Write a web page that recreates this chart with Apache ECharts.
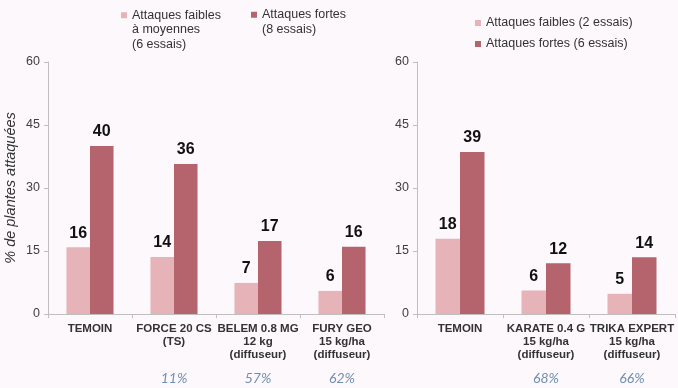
<!DOCTYPE html>
<html>
<head>
<meta charset="utf-8">
<script src="https://cdn.jsdelivr.net/npm/echarts@6/dist/echarts.min.js"></script>
<style>
  html, body { margin: 0; padding: 0; background: #fdf8fb; }
  #chart { width: 678px; height: 388px; }
</style>
</head>
<body>
<div id="chart"></div>
<script>
// données
var catsLeft = ['TEMOIN', 'FORCE 20 CS\n(TS)', 'BELEM 0.8 MG\n12 kg\n(diffuseur)', 'FURY GEO\n15 kg/ha\n(diffuseur)'];
var effLeft = ['', '11%', '57%', '62%'];
var faiblesLeft = [15.9, 13.6, 7.4, 5.5];
var fortesLeft = [40, 35.7, 17.4, 16];

var catsRight = ['TEMOIN', 'KARATE 0.4 G\n15 kg/ha\n(diffuseur)', 'TRIKA EXPERT\n15 kg/ha\n(diffuseur)'];
var effRight = ['', '68%', '66%'];
var faiblesRight = [17.9, 5.6, 4.8];
var fortesRight = [38.6, 12.1, 13.5];

var yTicks = [0, 15, 30, 45, 60];

var clair = '#e6b3b8';
var fonce = '#b5636d';

var barLabel = {
    show: true,
    position: 'top',
    fontSize: 16,
    fontWeight: 'bold',
    color: '#111',
    fontFamily: 'Liberation Sans',
    distance: 6,
    formatter: function (p) { return Math.round(p.value); }
};

function catAxis(grid, cats) {
    return {
        type: 'category',
        gridIndex: grid,
        data: cats,
        axisLine: { lineStyle: { color: '#bfbfbf' } },
        axisTick: { show: true, length: 4, lineStyle: { color: '#bfbfbf' } },
        axisLabel: {
            interval: 0,
            margin: 8,
            fontSize: 11.5,
            fontWeight: 'bold',
            color: '#333',
            lineHeight: 13,
            fontFamily: 'Liberation Sans'
        }
    };
}

function effAxis(grid, eff) {
    return {
        type: 'category',
        gridIndex: grid,
        position: 'bottom',
        data: eff,
        axisLine: { show: false },
        axisTick: { show: false },
        axisLabel: {
            interval: 0,
            margin: 57,
            fontSize: 14,
            fontStyle: 'italic',
            color: '#6f8fb0',
            fontFamily: 'Lato'
        }
    };
}

function valAxis(grid, withName) {
    return {
        type: 'value',
        gridIndex: grid,
        min: yTicks[0],
        max: yTicks[yTicks.length - 1],
        interval: 15,
        name: withName ? '% de plantes attaquées' : '',
        nameLocation: 'middle',
        nameGap: 30,
        nameTextStyle: { fontStyle: 'italic', fontSize: 14.5, color: '#333', fontFamily: 'Liberation Sans' },
        splitLine: { show: false },
        axisLine: { show: true, lineStyle: { color: '#bfbfbf' } },
        axisTick: { show: true, length: 4, lineStyle: { color: '#bfbfbf' } },
        axisLabel: { fontSize: 12.5, color: '#404040', margin: 8, fontFamily: 'Liberation Sans' }
    };
}

var legendText = { fontSize: 12.5, color: '#333', fontFamily: 'Liberation Sans', lineHeight: 14.5 };

// lignes vides devant le nom : le carré reste en face de la première ligne
function topAligned(name) {
    var n = name.split('\n').length - 1;
    return new Array(n + 1).join('\n') + name;
}

var option = {
    backgroundColor: '#fdf8fb',
    animation: false,
    legend: [{
        data: ['Attaques faibles\nà moyennes\n(6 essais)'],
        left: 121, top: -21, padding: 0,
        icon: 'rect', itemWidth: 6, itemHeight: 6,
        formatter: topAligned,
        textStyle: legendText
    }, {
        data: ['Attaques fortes\n(8 essais)'],
        left: 251, top: -7, padding: 0,
        icon: 'rect', itemWidth: 6, itemHeight: 6,
        formatter: topAligned,
        textStyle: legendText
    }, {
        data: ['Attaques faibles (2 essais)', 'Attaques fortes (6 essais)'],
        left: 475, top: 15.5, padding: 0,
        orient: 'vertical',
        icon: 'rect', itemWidth: 6, itemHeight: 6, itemGap: 6,
        textStyle: { fontSize: 12.5, color: '#333', fontFamily: 'Liberation Sans', lineHeight: 15 }
    }],
    grid: [
        { left: 48, right: 294, top: 62, bottom: 74 },
        { left: 417, right: 3, top: 62, bottom: 74 }
    ],
    xAxis: [
        catAxis(0, catsLeft), effAxis(0, effLeft),
        catAxis(1, catsRight), effAxis(1, effRight)
    ],
    yAxis: [valAxis(0, true), valAxis(1, false)],
    series: [{
        name: 'Attaques faibles\nà moyennes\n(6 essais)',
        type: 'bar', xAxisIndex: 0, yAxisIndex: 0,
        barCategoryGap: '44%', barGap: '0%',
        itemStyle: { color: clair },
        label: barLabel,
        data: faiblesLeft
    }, {
        name: 'Attaques fortes\n(8 essais)',
        type: 'bar', xAxisIndex: 0, yAxisIndex: 0,
        barCategoryGap: '44%', barGap: '0%',
        itemStyle: { color: fonce },
        label: barLabel,
        data: fortesLeft
    }, {
        name: 'Attaques faibles (2 essais)',
        type: 'bar', xAxisIndex: 2, yAxisIndex: 1,
        barCategoryGap: '43%', barGap: '0%',
        itemStyle: { color: clair },
        label: barLabel,
        data: faiblesRight
    }, {
        name: 'Attaques fortes (6 essais)',
        type: 'bar', xAxisIndex: 2, yAxisIndex: 1,
        barCategoryGap: '43%', barGap: '0%',
        itemStyle: { color: fonce },
        label: barLabel,
        data: fortesRight
    }]
};

var myChart = echarts.init(document.getElementById('chart'));
myChart.setOption(option);
</script>
</body>
</html>
